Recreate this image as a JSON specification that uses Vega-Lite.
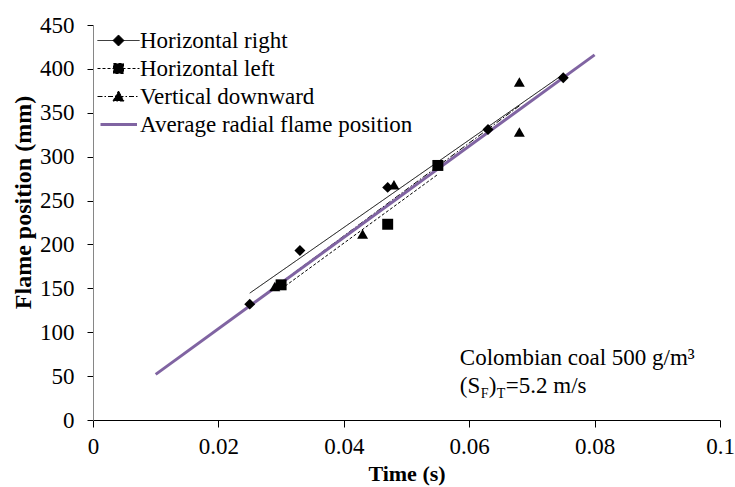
{
  "$schema": "https://vega.github.io/schema/vega-lite/v6.json",
  "width": 627,
  "height": 395,
  "autosize": "none",
  "padding": {"left": 93, "top": 25, "right": 15, "bottom": 67},
  "background": "white",
  "config": {
    "view": {"stroke": null},
    "font": "Liberation Serif",
    "axis": {"grid": false, "labelFont": "Liberation Serif", "titleFont": "Liberation Serif", "labelColor": "black", "titleColor": "black", "tickColor": "black"}
  },
  "datasets": {
    "pts": [
      {"series": "Horizontal right", "time": 0.025, "pos": 132},
      {"series": "Horizontal right", "time": 0.033, "pos": 193},
      {"series": "Horizontal right", "time": 0.047, "pos": 265},
      {"series": "Horizontal right", "time": 0.063, "pos": 331},
      {"series": "Horizontal right", "time": 0.075, "pos": 390},
      {"series": "Horizontal left", "time": 0.030, "pos": 154},
      {"series": "Horizontal left", "time": 0.047, "pos": 223},
      {"series": "Horizontal left", "time": 0.055, "pos": 290},
      {"series": "Vertical downward", "time": 0.029, "pos": 152},
      {"series": "Vertical downward", "time": 0.043, "pos": 212},
      {"series": "Vertical downward", "time": 0.048, "pos": 268},
      {"series": "Vertical downward", "time": 0.068, "pos": 385},
      {"series": "Vertical downward", "time": 0.068, "pos": 328}
    ],
    "avg": [
      {"series": "Average radial flame position", "time": 0.01, "pos": 52},
      {"series": "Average radial flame position", "time": 0.08, "pos": 416}
    ],
    "note": [{"label": "annotation"}]
  },
  "layer": [
    {
      "data": {"name": "pts"},
      "transform": [{"regression": "pos", "on": "time", "groupby": ["series"]}],
      "mark": {"type": "line", "strokeWidth": 1},
      "encoding": {
        "x": {
          "field": "time", "type": "quantitative",
          "scale": {"domain": [0, 0.1], "nice": false},
          "axis": {
            "values": [0, 0.02, 0.04, 0.06, 0.08, 0.1], "format": ".2~f",
            "title": "Time (s)", "titleFontSize": 22, "titleFontWeight": "bold", "titlePadding": 5,
            "labelFontSize": 23, "labelPadding": 8, "tickSize": 7, "domainColor": "black", "labelFlush": false
          }
        },
        "y": {
          "field": "pos", "type": "quantitative",
          "scale": {"domain": [0, 450], "nice": false},
          "axis": {
            "values": [0, 50, 100, 150, 200, 250, 300, 350, 400, 450],
            "title": "Flame position (mm)", "titleFontSize": 24, "titleFontWeight": "bold", "titlePadding": 4, "titleY": 177,
            "labelFontSize": 23, "labelPadding": 13, "tickSize": 6, "domainColor": "#868686"
          }
        },
        "color": {
          "field": "series", "type": "nominal",
          "scale": {
            "domain": ["Horizontal right", "Horizontal left", "Vertical downward", "Average radial flame position"],
            "range": ["black", "black", "black", "#8064A2"]
          },
          "legend": {
            "title": null, "orient": "none", "legendX": -2, "legendY": 4,
            "symbolSize": 100, "labelFontSize": 23, "labelFont": "Liberation Serif", "labelColor": "black",
            "labelOffset": 26, "labelLimit": 0, "rowPadding": 4, "symbolStrokeWidth": 1,
            "encoding": {
              "symbols": {
                "shape": {"value": {"expr": "datum.value === 'Horizontal right' ? 'M-1,0H7.4M3.2,-1.1L4.3,0L3.2,1.1L2.1,0Z' : datum.value === 'Horizontal left' ? 'M-1,0H7.4M2.2,-1H4.2V1H2.2Z' : datum.value === 'Vertical downward' ? 'M-1,0H7.4M3.2,-1.1L4.3,0.9L2.1,0.9Z' : 'M-0.4,0H6.9'"}},
                "strokeDash": {"value": {"expr": "datum.value === 'Horizontal left' ? [3,2] : datum.value === 'Vertical downward' ? [5,2,1.5,2] : [1,0]"}},
                "strokeWidth": {"value": {"expr": "datum.value === 'Average radial flame position' ? 3 : 1"}},
                "fill": {"value": {"expr": "datum.value === 'Average radial flame position' ? 'transparent' : 'black'"}},
                "stroke": {"value": {"expr": "datum.value === 'Average radial flame position' ? '#8064A2' : 'black'"}},
                "opacity": {"value": 1}
              }
            }
          }
        },
        "strokeDash": {
          "field": "series", "type": "nominal",
          "scale": {"domain": ["Horizontal right", "Horizontal left", "Vertical downward"], "range": [[1, 0], [3, 2], [6, 2, 1.5, 2]]},
          "legend": null
        }
      }
    },
    {
      "data": {"name": "avg"},
      "mark": {"type": "line", "strokeWidth": 3},
      "encoding": {
        "x": {"field": "time", "type": "quantitative"},
        "y": {"field": "pos", "type": "quantitative"},
        "color": {"field": "series", "type": "nominal"}
      }
    },
    {
      "data": {"name": "pts"},
      "mark": {"type": "point", "filled": true, "size": 120, "color": "black", "opacity": 1},
      "encoding": {
        "x": {"field": "time", "type": "quantitative"},
        "y": {"field": "pos", "type": "quantitative"},
        "shape": {
          "field": "series", "type": "nominal",
          "scale": {"domain": ["Horizontal right", "Horizontal left", "Vertical downward"], "range": ["diamond", "square", "triangle-up"]},
          "legend": null
        }
      }
    },
    {
      "data": {"name": "note"},
      "mark": {"type": "text", "align": "left", "baseline": "alphabetic", "fontSize": 23, "font": "Liberation Serif", "color": "black", "text": "Colombian coal 500 g/m³"},
      "encoding": {"x": {"datum": 0.0585, "type": "quantitative"}, "y": {"datum": 62.7, "type": "quantitative"}}
    },
    {
      "data": {"name": "note"},
      "mark": {"type": "text", "align": "left", "baseline": "alphabetic", "fontSize": 23, "font": "Liberation Serif", "color": "black", "text": "(S"},
      "encoding": {"x": {"datum": 0.0585, "type": "quantitative"}, "y": {"datum": 30.8, "type": "quantitative"}}
    },
    {
      "data": {"name": "note"},
      "mark": {"type": "text", "align": "left", "baseline": "alphabetic", "fontSize": 14, "font": "Liberation Serif", "color": "black", "text": "F", "dx": 21, "dy": 5},
      "encoding": {"x": {"datum": 0.0585, "type": "quantitative"}, "y": {"datum": 30.8, "type": "quantitative"}}
    },
    {
      "data": {"name": "note"},
      "mark": {"type": "text", "align": "left", "baseline": "alphabetic", "fontSize": 23, "font": "Liberation Serif", "color": "black", "text": ")", "dx": 29},
      "encoding": {"x": {"datum": 0.0585, "type": "quantitative"}, "y": {"datum": 30.8, "type": "quantitative"}}
    },
    {
      "data": {"name": "note"},
      "mark": {"type": "text", "align": "left", "baseline": "alphabetic", "fontSize": 14, "font": "Liberation Serif", "color": "black", "text": "T", "dx": 37, "dy": 5},
      "encoding": {"x": {"datum": 0.0585, "type": "quantitative"}, "y": {"datum": 30.8, "type": "quantitative"}}
    },
    {
      "data": {"name": "note"},
      "mark": {"type": "text", "align": "left", "baseline": "alphabetic", "fontSize": 23, "font": "Liberation Serif", "color": "black", "text": "=5.2 m/s", "dx": 46},
      "encoding": {"x": {"datum": 0.0585, "type": "quantitative"}, "y": {"datum": 30.8, "type": "quantitative"}}
    }
  ]
}
